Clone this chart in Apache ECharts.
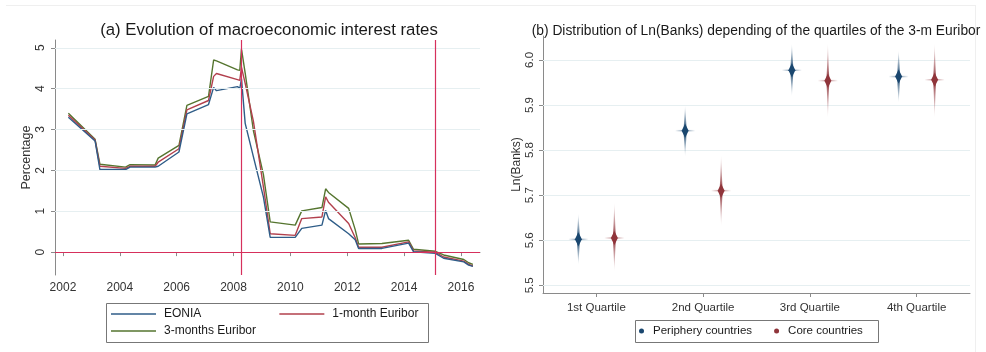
<!DOCTYPE html>
<html>
<head>
<meta charset="utf-8">
<script src="https://cdn.jsdelivr.net/npm/echarts@6/dist/echarts.min.js"></script>
<style>
  html, body { margin: 0; padding: 0; background: #ffffff; }
  #chart { width: 986px; height: 352px; }
</style>
</head>
<body>
<div id="chart"></div>
<script>
// ---- Panel (a): money-market rates (percent) ----
const years = [2002.19, 2003.13, 2003.30, 2004.20, 2004.36, 2005.24, 2005.35, 2006.08, 2006.36, 2007.12,
  2007.30, 2007.40, 2008.14, 2008.22, 2008.28, 2008.41, 2008.70, 2009.05, 2009.29, 2010.17,
  2010.40, 2011.11, 2011.24, 2011.34, 2012.05, 2012.28, 2012.40, 2013.22, 2014.16, 2014.33,
  2015.10, 2015.39, 2016.10, 2016.27, 2016.42];
const eonia = [3.30, 2.72, 2.02, 2.02, 2.08, 2.08, 2.10, 2.45, 3.38, 3.61,
  4.03, 3.95, 4.05, 4.00, 4.24, 3.15, 2.33, 1.35, 0.36, 0.36,
  0.58, 0.66, 1.02, 0.82, 0.45, 0.30, 0.09, 0.09, 0.22, 0.01,
  -0.03, -0.15, -0.24, -0.32, -0.35];
const euribor1m = [3.35, 2.74, 2.10, 2.05, 2.10, 2.10, 2.20, 2.53, 3.48, 3.71,
  4.30, 4.37, 4.22, 4.20, 4.52, 4.13, 3.20, 1.60, 0.45, 0.41,
  0.82, 0.86, 1.35, 1.22, 0.70, 0.35, 0.12, 0.12, 0.25, 0.03,
  0.00, -0.12, -0.22, -0.30, -0.34];
const euribor3m = [3.40, 2.76, 2.15, 2.08, 2.14, 2.13, 2.30, 2.61, 3.59, 3.81,
  4.70, 4.68, 4.46, 4.45, 4.97, 4.38, 2.97, 1.90, 0.74, 0.66,
  1.01, 1.09, 1.55, 1.46, 1.07, 0.55, 0.20, 0.21, 0.29, 0.07,
  0.02, -0.07, -0.18, -0.26, -0.30];
const yearTicks = [2002, 2004, 2006, 2008, 2010, 2012, 2014, 2016];
const rateTicks = [0, 1, 2, 3, 4, 5];
const eventDates = [2008.28, 2015.08];

// ---- Panel (b): Ln(Banks) by 3-m Euribor quartile ----
const quartiles = ['1st Quartile', '2nd Quartile', '3rd Quartile', '4th Quartile'];
const peripheryMean = [5.602, 5.843, 5.977, 5.963];
const peripheryLow  = [5.544, 5.784, 5.918, 5.904];
const peripheryHigh = [5.660, 5.900, 6.037, 6.022];
const coreMean = [5.605, 5.710, 5.954, 5.956];
const coreLow  = [5.530, 5.630, 5.870, 5.870];
const coreHigh = [5.685, 5.790, 6.038, 6.038];
const lnTicks = [5.5, 5.6, 5.7, 5.8, 5.9, 6.0];

const C_EONIA = '#2f5d88', C_1M = '#b2404d', C_3M = '#55752f';
const C_PERI = '#1a476f', C_CORE = '#90353b';
const C_REF = '#d6305c', C_GRID = '#e6eff1', C_AXIS = '#8a8a8a';
const FONT = '"Liberation Sans", Arial, sans-serif';

function rgba(hex, a) {
  const n = parseInt(hex.slice(1), 16);
  return 'rgba(' + (n >> 16 & 255) + ',' + (n >> 8 & 255) + ',' + (n & 255) + ',' + a + ')';
}

function pairs(xs, ys) { return xs.map((x, i) => [x, ys[i]]); }

// A spike glyph: faded vertical range, centre diamond, faint horizontal tick
function spikeRenderer(offset, color) {
  return function (params, api) {
    const cat = api.value(0);
    const c = api.coord([cat, api.value(1)]);
    const lo = api.coord([cat, api.value(2)]);
    const hi = api.coord([cat, api.value(3)]);
    const x = c[0] + offset, cy = c[1];
    const f = Math.min(0.99, Math.max(0.01, (cy - hi[1]) / (lo[1] - hi[1])));
    return {
      type: 'group',
      children: [
        {
          type: 'polygon',
          shape: { points: [[x, hi[1]], [x + 1.0, cy - 10], [x + 1.6, cy], [x + 1.0, cy + 10],
                            [x, lo[1]], [x - 1.0, cy + 10], [x - 1.6, cy], [x - 1.0, cy - 10]] },
          style: { fill: new echarts.graphic.LinearGradient(0, 0, 0, 1, [
            { offset: 0, color: rgba(color, 0) },
            { offset: f * 0.6, color: rgba(color, 0.55) },
            { offset: f, color: rgba(color, 1) },
            { offset: f + (1 - f) * 0.4, color: rgba(color, 0.55) },
            { offset: 1, color: rgba(color, 0) }]) }
        },
        {
          type: 'rect',
          shape: { x: x - 10, y: cy - 0.75, width: 20, height: 1.5 },
          style: { fill: new echarts.graphic.LinearGradient(0, 0, 1, 0, [
            { offset: 0, color: rgba(color, 0) },
            { offset: 0.5, color: rgba(color, 0.6) },
            { offset: 1, color: rgba(color, 0) }]) }
        },
        {
          type: 'polygon',
          shape: { points: [[x, cy - 7], [x + 3.5, cy], [x, cy + 7], [x - 3.5, cy]] },
          style: { fill: color }
        }
      ]
    };
  };
}

function spikeData(mean, low, high) {
  return mean.map((m, i) => [i, m, low[i], high[i]]);
}

const axisLineStyle = { lineStyle: { color: C_AXIS, width: 1 } };
const tickStyle = { show: true, length: 4, lineStyle: { color: C_AXIS } };
const lineLegendText = { fontSize: 12, color: '#1a1a1a', fontFamily: FONT, padding: [0, 0, 0, 3] };

const option = {
  backgroundColor: '#ffffff',
  animation: false,
  textStyle: { fontFamily: FONT },
  title: [
    { text: '(a) Evolution of macroeconomic interest rates', left: 264, top: 17, textAlign: 'center',
      textStyle: { fontSize: 16.8, fontWeight: 'normal', color: '#1a1a1a', fontFamily: FONT } },
    { text: '(b) Distribution of Ln(Banks) depending of the quartiles of the 3-m Euribor', left: 751, top: 19, textAlign: 'center',
      textStyle: { fontSize: 13.8, fontWeight: 'normal', color: '#1a1a1a', fontFamily: FONT } }
  ],
  grid: [
    { left: 55, top: 40, width: 425, height: 235 },
    { left: 543, top: 36, width: 427, height: 257 }
  ],
  xAxis: [
    { type: 'value', gridIndex: 0, min: 2001.72, max: 2016.67,
      axisLine: axisLineStyle, splitLine: { show: false },
      axisTick: Object.assign({ customValues: yearTicks }, tickStyle),
      axisLabel: { customValues: yearTicks, formatter: v => String(v), fontSize: 12, color: '#333', margin: 7, fontFamily: FONT } },
    { type: 'category', gridIndex: 1, data: quartiles, boundaryGap: true,
      axisLine: axisLineStyle, splitLine: { show: false },
      axisTick: Object.assign({ alignWithLabel: true }, tickStyle),
      axisLabel: { fontSize: 11.5, color: '#333', margin: 9, fontFamily: FONT } }
  ],
  yAxis: [
    { type: 'value', gridIndex: 0, min: -0.56, max: 5.19,
      name: 'Percentage', nameLocation: 'middle', nameRotate: 90, nameGap: 22,
      nameTextStyle: { fontSize: 12.5, color: '#333', fontFamily: FONT },
      axisLine: { show: true, lineStyle: { color: C_AXIS } }, splitLine: { show: false },
      axisTick: Object.assign({ customValues: rateTicks }, tickStyle),
      axisLabel: { customValues: rateTicks, rotate: 90, fontSize: 12, color: '#333', margin: 8, fontFamily: FONT } },
    { type: 'value', gridIndex: 1, min: 5.483, max: 6.053,
      name: 'Ln(Banks)', nameLocation: 'middle', nameRotate: 90, nameGap: 20,
      nameTextStyle: { fontSize: 12, color: '#333', fontFamily: FONT },
      axisLine: { show: true, lineStyle: { color: C_AXIS } }, splitLine: { show: false },
      axisTick: Object.assign({ customValues: lnTicks }, tickStyle),
      axisLabel: { customValues: lnTicks, rotate: 90, fontSize: 11.5, color: '#333', margin: 7, fontFamily: FONT,
                   formatter: v => v.toFixed(1) } }
  ],
  legend: [
    { left: 111, top: 308, itemWidth: 45, itemHeight: 1.5, itemGap: 78, padding: 0,
      data: [
        { name: 'EONIA', icon: 'rect', itemStyle: { color: C_EONIA } },
        { name: '1-month Euribor', icon: 'rect', itemStyle: { color: C_1M } }
      ],
      textStyle: lineLegendText },
    { left: 111, top: 325, itemWidth: 45, itemHeight: 1.5, padding: 0,
      data: [{ name: '3-months Euribor', icon: 'rect', itemStyle: { color: C_3M } }],
      textStyle: lineLegendText },
    { left: 639, top: 325, itemWidth: 5, itemHeight: 5, itemGap: 22, padding: 0,
      data: [
        { name: 'Periphery countries', icon: 'circle', itemStyle: { color: C_PERI } },
        { name: 'Core countries', icon: 'circle', itemStyle: { color: C_CORE } }
      ],
      textStyle: { fontSize: 11.5, color: '#1a1a1a', fontFamily: FONT, padding: [0, 0, 0, 4] } }
  ],
  graphic: [
    { type: 'rect', shape: { x: 106.5, y: 303.5, width: 322, height: 39 },
      style: { fill: 'none', stroke: '#777', lineWidth: 1 } },
    { type: 'rect', shape: { x: 635.5, y: 320.5, width: 243, height: 22 },
      style: { fill: 'none', stroke: '#777', lineWidth: 1 } },
    { type: 'line', shape: { x1: 6, y1: 5.5, x2: 976, y2: 5.5 }, style: { stroke: '#efefef', lineWidth: 1 } },
    { type: 'line', shape: { x1: 975.5, y1: 5, x2: 975.5, y2: 352 }, style: { stroke: '#efefef', lineWidth: 1 } }
  ],
  series: [
    // horizontal grid lines, panel (a)
    { type: 'line', name: 'gridA', xAxisIndex: 0, yAxisIndex: 0, data: [], z: 1, silent: true,
      markLine: { silent: true, symbol: 'none', label: { show: false },
        lineStyle: { color: C_GRID, width: 1, type: 'solid' },
        data: rateTicks.filter(v => v !== 0).map(v => ({ yAxis: v })) } },
    // horizontal grid lines, panel (b)
    { type: 'line', name: 'gridB', xAxisIndex: 1, yAxisIndex: 1, data: [], z: 1, silent: true,
      markLine: { silent: true, symbol: 'none', label: { show: false },
        lineStyle: { color: C_GRID, width: 1, type: 'solid' },
        data: lnTicks.map(v => ({ yAxis: v })) } },
    { type: 'line', name: 'EONIA', xAxisIndex: 0, yAxisIndex: 0, data: pairs(years, eonia),
      symbol: 'none', lineStyle: { color: C_EONIA, width: 1.4 }, itemStyle: { color: C_EONIA }, z: 4 },
    { type: 'line', name: '1-month Euribor', xAxisIndex: 0, yAxisIndex: 0, data: pairs(years, euribor1m),
      symbol: 'none', lineStyle: { color: C_1M, width: 1.4 }, itemStyle: { color: C_1M }, z: 3 },
    { type: 'line', name: '3-months Euribor', xAxisIndex: 0, yAxisIndex: 0, data: pairs(years, euribor3m),
      symbol: 'none', lineStyle: { color: C_3M, width: 1.4 }, itemStyle: { color: C_3M }, z: 2 },
    // reference lines: zero rate and the two policy dates
    { type: 'line', name: 'refLines', xAxisIndex: 0, yAxisIndex: 0, data: [], z: 6, silent: true,
      markLine: { silent: true, symbol: 'none', label: { show: false },
        lineStyle: { color: C_REF, width: 1.2, type: 'solid' },
        data: [{ yAxis: 0 }].concat(eventDates.map(d => ({ xAxis: d }))) } },
    { type: 'custom', name: 'Periphery countries', xAxisIndex: 1, yAxisIndex: 1,
      itemStyle: { color: C_PERI }, encode: { x: 0, y: 1 },
      renderItem: spikeRenderer(-18, C_PERI), data: spikeData(peripheryMean, peripheryLow, peripheryHigh), z: 5 },
    { type: 'custom', name: 'Core countries', xAxisIndex: 1, yAxisIndex: 1,
      itemStyle: { color: C_CORE }, encode: { x: 0, y: 1 },
      renderItem: spikeRenderer(18, C_CORE), data: spikeData(coreMean, coreLow, coreHigh), z: 5 }
  ]
};

const chart = echarts.init(document.getElementById('chart'), null, { renderer: 'canvas' });
chart.setOption(option);
</script>
</body>
</html>
